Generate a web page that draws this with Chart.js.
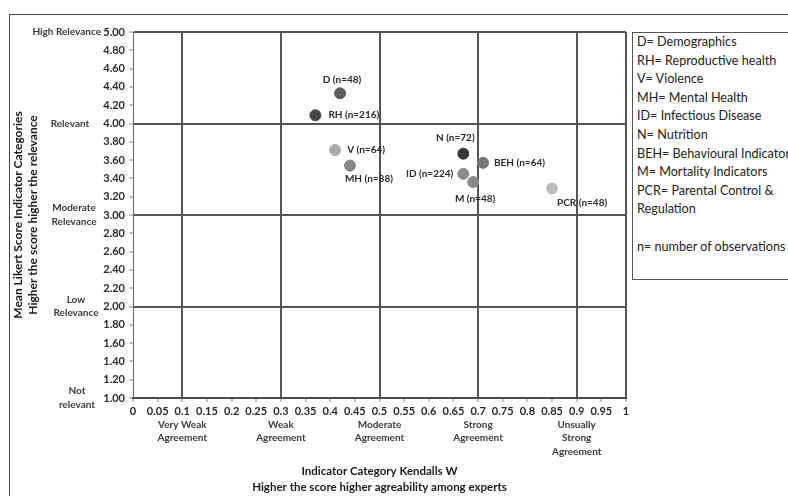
<!DOCTYPE html>
<html>
<head>
<meta charset="utf-8">
<script src="https://cdn.jsdelivr.net/npm/chart.js@4.4.1/dist/chart.umd.min.js"></script>
<style>
    html, body { margin: 0; padding: 0; background: #fff; overflow: hidden; }
    #marco { position: absolute; left: 9px; top: 14px; width: 1000px; height: 1000px; border: 1px solid #444; }
    #contenedor { position: absolute; left: 0; top: 0; width: 788px; height: 496px; }
    #leyenda {
        position: absolute; left: 632px; top: 32px; width: 220px; height: 248px;
        border: 1px solid #555; background: #fff;
        font-family: Lato, sans-serif; font-size: 12.6px; line-height: 18.6px; color: #222;
        padding: 0 0 0 4px; white-space: nowrap; box-sizing: border-box;
    }
</style>
</head>
<body>
<div id="marco"></div>
<div id="contenedor"><canvas id="kendall" width="788" height="496"></canvas></div>
<div id="leyenda">
    D= Demographics<br>
    RH= Reproductive health<br>
    V= Violence<br>
    MH= Mental Health<br>
    ID= Infectious Disease<br>
    N= Nutrition<br>
    BEH= Behavioural Indicator<br>
    M= Mortality Indicators<br>
    PCR= Parental Control &amp;<br>
    Regulation<br>
    <br>
    n= number of observations
</div>
<script>
// datos
var categorias = ['D', 'RH', 'V', 'MH', 'ID', 'N', 'BEH', 'M', 'PCR'];
var observaciones = [48, 216, 64, 88, 224, 72, 64, 48, 48];
var kendallW = [0.42, 0.37, 0.41, 0.44, 0.67, 0.67, 0.71, 0.69, 0.85];
var mediaLikert = [4.33, 4.09, 3.71, 3.54, 3.45, 3.67, 3.57, 3.36, 3.29];

var valoresAcuerdo = [0.1, 0.3, 0.5, 0.7, 0.9];
var etiquetasAcuerdo = [['Very Weak', 'Agreement'], ['Weak', 'Agreement'], ['Moderate', 'Agreement'], ['Strong', 'Agreement'], ['Unsually', 'Strong', 'Agreement']];
var valoresRelevancia = [5, 4, 3, 2, 1];
var etiquetasRelevancia = [['High Relevance'], ['Relevant'], ['Moderate', 'Relevance'], ['Low', 'Relevance'], ['Not', 'relevant']];

// estilo de cada punto (gris) y donde va su etiqueta
var coloresPuntos = ['#5c5c5c', '#464646', '#a9a9a9', '#878787', '#8a8a8a', '#383838', '#777777', '#8a8a8a', '#bcbcbc'];
var posEtiquetas = [
    [2, -14, 'center'], [13, 0, 'left'], [12, 0, 'left'], [19, 13, 'center'], [-10, 0, 'right'],
    [-8, -16, 'center'], [11, 0, 'left'], [2, 17, 'center'], [5, 14, 'left']
];
// x de las categorias del eje y (la primera va alineada a la derecha)
var posRelevancia = [[101, 'right'], [70, 'center'], [74, 'center'], [76, 'center'], [77, 'center']];

var fuente = 'Lato, sans-serif';

var puntos = kendallW.map(function(w, i) {
    return { x: w, y: mediaLikert[i] };
});

function lineaFuerte(valor, lista) {
    var v = Math.round(valor * 100);
    return lista.indexOf(v) >= 0;
}

/**
 * Plugin que escribe las categorias de los ejes y las etiquetas de los puntos
 */
var textosExtra = {
    id: 'textosExtra',
    afterDatasetsDraw: function(chart) {
        var ctx = chart.ctx;
        var sx = chart.scales.x, sy = chart.scales.y;
        ctx.save();
        ctx.fillStyle = '#3a3a3a';
        ctx.textBaseline = 'middle';
        ctx.textAlign = 'center';
        ctx.font = 'bold 10px ' + fuente;
        valoresAcuerdo.forEach(function(v, i) {
            var px = sx.getPixelForValue(v);
            etiquetasAcuerdo[i].forEach(function(t, j) {
                ctx.fillText(t, px, 424.5 + j * 13.5);
            });
        });
        valoresRelevancia.forEach(function(v, i) {
            var py = sy.getPixelForValue(v);
            var lineas = etiquetasRelevancia[i];
            var inicio = py - (lineas.length - 1) * 13.5 / 2;
            ctx.textAlign = posRelevancia[i][1];
            lineas.forEach(function(t, j) {
                ctx.fillText(t, posRelevancia[i][0], inicio + j * 13.5);
            });
        });
        // etiquetas de los puntos
        ctx.font = 'bold 10px ' + fuente;
        ctx.fillStyle = '#2a2a2a';
        var meta = chart.getDatasetMeta(0);
        meta.data.forEach(function(p, i) {
            var pos = posEtiquetas[i];
            ctx.textAlign = pos[2];
            ctx.fillText(categorias[i] + ' (n=' + observaciones[i] + ')', p.x + pos[0], p.y + pos[1]);
        });
        ctx.restore();
    }
};

var ctx = document.getElementById('kendall').getContext('2d');
var chartKendall = new Chart(ctx, {
    type: 'scatter',
    data: {
        datasets: [{
            label: 'Indicadores',
            data: puntos,
            backgroundColor: coloresPuntos,
            borderColor: coloresPuntos,
            pointRadius: 5.5,
            pointHoverRadius: 5.5
        }]
    },
    options: {
        responsive: false,
        animation: false,
        layout: { padding: { left: 0, top: 32, right: 162, bottom: 0 } },
        plugins: {
            legend: { display: false },
            tooltip: { enabled: false }
        },
        scales: {
            x: {
                type: 'linear',
                min: 0,
                max: 1,
                afterFit: function(scale) { scale.height = 98; },
                border: { color: '#4a4a4a', width: 2 },
                grid: {
                    lineWidth: 2,
                    color: function(c) {
                        return lineaFuerte(c.tick.value, [10, 30, 50, 70, 90, 100]) ? '#555' : 'rgba(0,0,0,0)';
                    },
                    tickColor: '#8a8a8a',
                    tickWidth: 1,
                    tickLength: 4
                },
                ticks: {
                    stepSize: 0.05,
                    autoSkip: false,
                    maxRotation: 0,
                    padding: 3,
                    color: '#2a2a2a',
                    font: { family: fuente, size: 11, weight: 'bold' },
                    callback: function(v) { return String(Number(v.toFixed(2))); }
                },
                title: {
                    display: true,
                    text: ['Indicator Category Kendalls W', 'Higher the score higher agreability among experts'],
                    color: '#1a1a1a',
                    font: { family: fuente, size: 11.5, weight: 'bold', lineHeight: 16 / 11.5 },
                    padding: { top: 0, bottom: 1 }
                }
            },
            y: {
                type: 'linear',
                min: 1,
                max: 5,
                afterFit: function(scale) { scale.width = 133; },
                border: { color: '#666', width: 1 },
                grid: {
                    lineWidth: 2,
                    color: function(c) {
                        return lineaFuerte(c.tick.value, [200, 300, 400, 500]) ? '#555' : 'rgba(0,0,0,0)';
                    },
                    tickColor: '#8a8a8a',
                    tickWidth: 1,
                    tickLength: 4
                },
                ticks: {
                    stepSize: 0.2,
                    padding: 4,
                    color: '#2a2a2a',
                    font: { family: fuente, size: 11, weight: 'bold' },
                    callback: function(v) { return v.toFixed(2); }
                },
                title: {
                    display: true,
                    text: ['Mean Likert Score Indicator Categories', 'Higher the score higher the relevance'],
                    color: '#1a1a1a',
                    font: { family: fuente, size: 12, weight: 'bold', lineHeight: 15 / 12 },
                    padding: { top: 10.5, bottom: 0 }
                }
            }
        }
    },
    plugins: [textosExtra]
});
</script>
</body>
</html>
